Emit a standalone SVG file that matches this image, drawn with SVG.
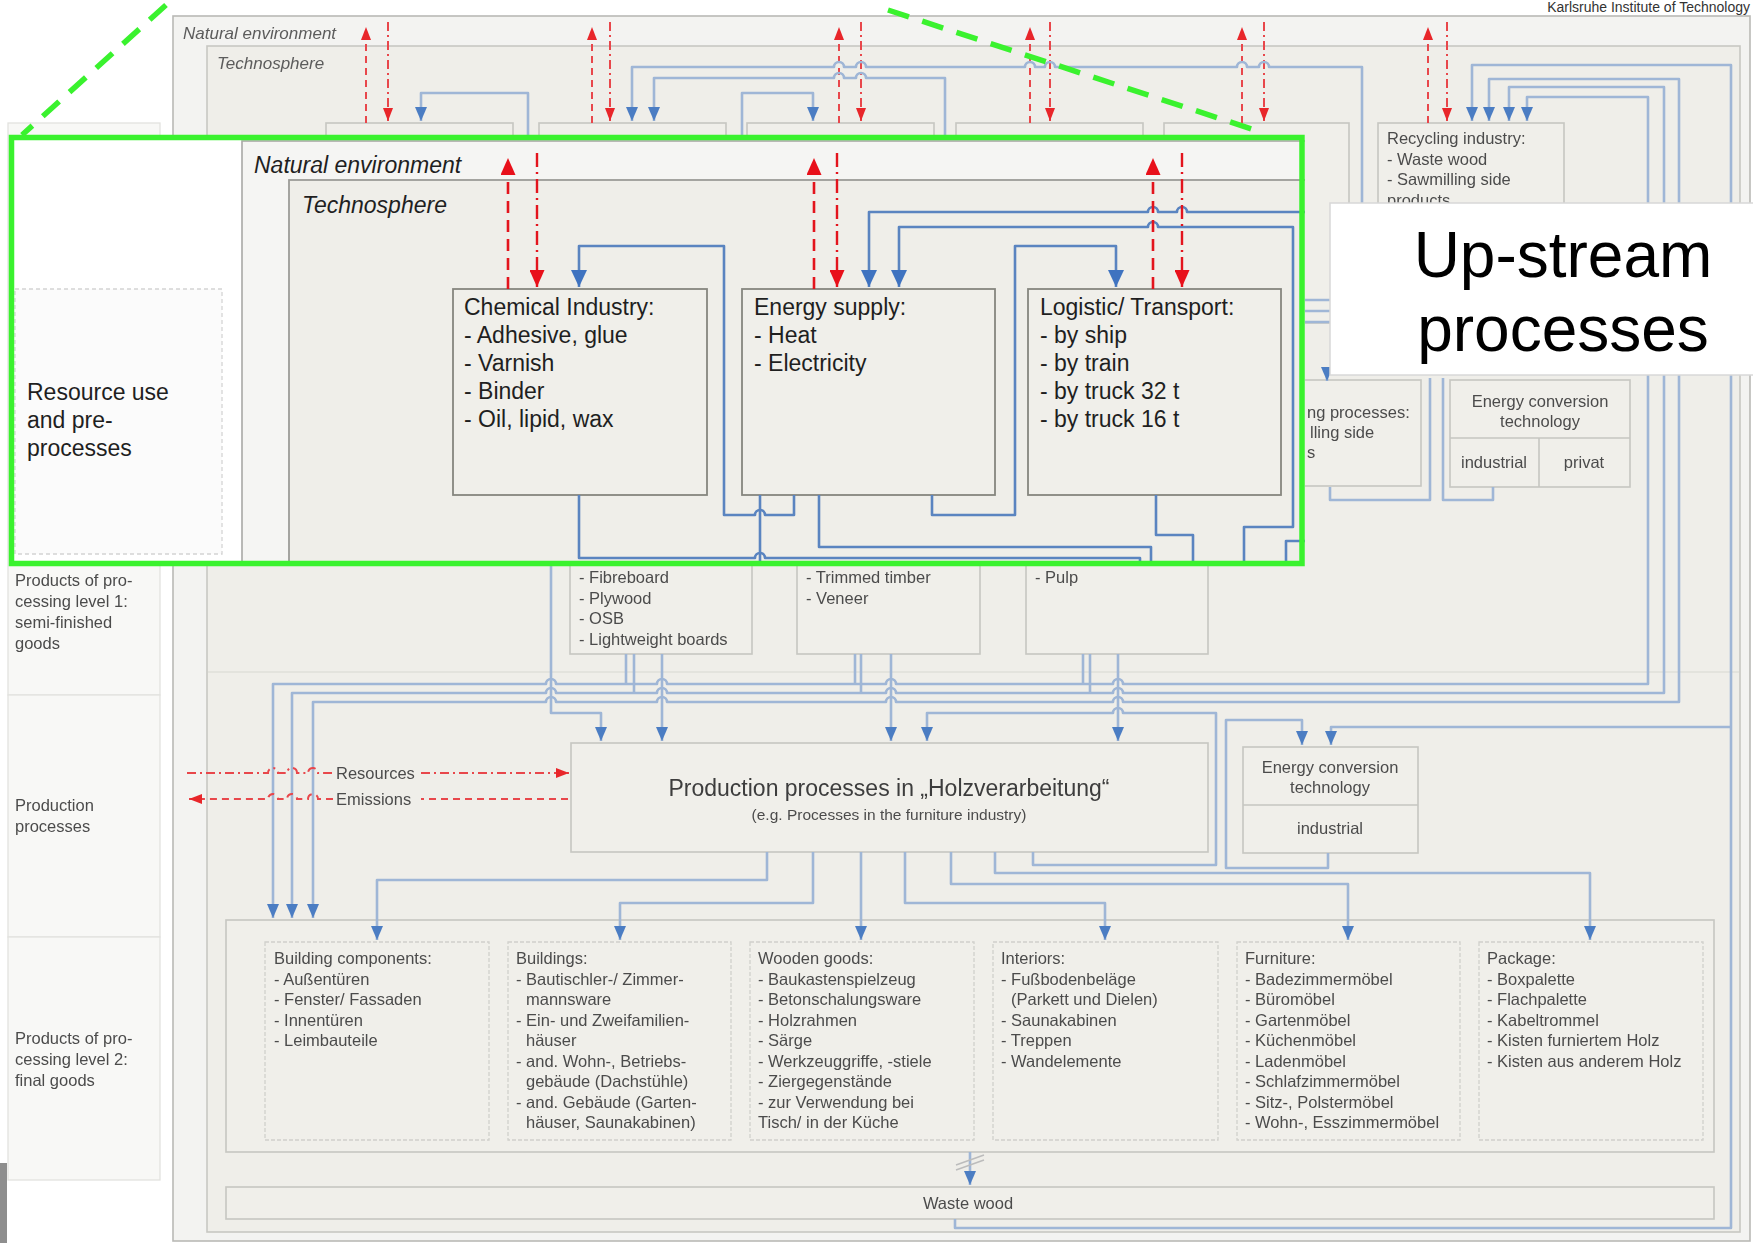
<svg xmlns="http://www.w3.org/2000/svg" width="1753" height="1243" viewBox="0 0 1753 1243">
<style>
.t{font-family:"Liberation Sans",Arial,sans-serif;fill:#4c4c4c;font-size:16.5px}
.tc{font-family:"Liberation Sans",Arial,sans-serif;fill:#4c4c4c;font-size:16.5px;text-anchor:middle}
.ti{font-family:"Liberation Sans",Arial,sans-serif;font-style:italic;fill:#5c5c5c;font-size:17px}
.bx{fill:#f0efea;stroke:#c6c6c1;stroke-width:1.6}
.bxd{fill:#f0efea;stroke:#d0d0cb;stroke-width:1.3;stroke-dasharray:4 2}
.lp{fill:#f8f8f6;stroke:#e2e2df;stroke-width:1.3}
.bl{fill:none;stroke:#9fb6d6;stroke-width:2.6;stroke-linejoin:round}
.ba{fill:none;stroke:#9fb6d6;stroke-width:2.6;stroke-linejoin:round;marker-end:url(#mb)}
.bb{fill:none;stroke:#9fb6d6;stroke-width:2.6;stroke-linejoin:round;marker-end:url(#mb);marker-start:url(#mb)}
.ru{fill:none;stroke:#e8464b;stroke-width:2;stroke-dasharray:7 5;marker-end:url(#mr)}
.rd{fill:none;stroke:#e8464b;stroke-width:2;stroke-dasharray:9 4 2 4;marker-end:url(#mr)}
.T{font-family:"Liberation Sans",Arial,sans-serif;fill:#1f1f1f;font-size:23px}
.TI{font-family:"Liberation Sans",Arial,sans-serif;font-style:italic;fill:#1f1f1f;font-size:23px}
.IB{fill:#f0efea;stroke:#86867f;stroke-width:1.8}
.il{fill:none;stroke:#5a84c0;stroke-width:2.6;stroke-linejoin:round}
.ia{fill:none;stroke:#5a84c0;stroke-width:2.6;stroke-linejoin:round;marker-end:url(#mB)}
.iu{fill:none;stroke:#e3141d;stroke-width:2.6;stroke-dasharray:12 7;marker-end:url(#mR)}
.id{fill:none;stroke:#e3141d;stroke-width:2.4;stroke-dasharray:14 5 2 5;marker-end:url(#mR)}
.g{fill:none;stroke:#3af22e;stroke-width:5.5}
</style>
<defs>
<marker id="mb" viewBox="0 0 14 12" refX="14" refY="6" markerWidth="14" markerHeight="12" markerUnits="userSpaceOnUse" orient="auto-start-reverse"><path d="M0,0 L14,6 L0,12 z" fill="#4c7dc3"/></marker>
<marker id="mr" viewBox="0 0 13 10" refX="13" refY="5" markerWidth="13" markerHeight="10" markerUnits="userSpaceOnUse" orient="auto"><path d="M0,0 L13,5 L0,10 z" fill="#e8262b"/></marker>
<marker id="mB" viewBox="0 0 17 16" refX="17" refY="8" markerWidth="17" markerHeight="16" markerUnits="userSpaceOnUse" orient="auto"><path d="M0,0 L17,8 L0,16 z" fill="#3f73c0"/></marker>
<marker id="mR" viewBox="0 0 17 15" refX="17" refY="7.5" markerWidth="17" markerHeight="15" markerUnits="userSpaceOnUse" orient="auto"><path d="M0,0 L17,7.5 L0,15 z" fill="#e8101a"/></marker>
<filter id="soft" x="-2%" y="-2%" width="104%" height="104%"><feGaussianBlur stdDeviation="0.5"/></filter>
<clipPath id="ic"><rect x="9" y="135" width="1296" height="431"/></clipPath>
</defs>
<rect width="1753" height="1243" fill="#ffffff"/>
<text x="1750" y="12" font-family="Liberation Sans, Arial, sans-serif" font-size="14" fill="#333" text-anchor="end">Karlsruhe Institute of Technology</text>

<g id="background" filter="url(#soft)">
<g id="natural-environment">
<rect x="173" y="16" width="1577" height="1225" fill="#f3f3f1" stroke="#b9b9b6" stroke-width="1.6"/>
<text class="ti" x="183" y="39">Natural environment</text>
</g>
<g id="technosphere">
<rect x="207" y="46" width="1533" height="1186" fill="#efeee9" stroke="#c7c7c2" stroke-width="1.6"/>
<text class="ti" x="217" y="69">Technosphere</text>
<line x1="208" y1="672" x2="1739" y2="672" stroke="#e3e3dd" stroke-width="2"/>
</g>
<g id="lanes">
<rect class="lp" x="8" y="123" width="152" height="572"/>
<rect class="lp" x="8" y="695" width="152" height="242"/>
<rect class="lp" x="8" y="937" width="152" height="243"/>
<text class="t" x="15" y="586">Products of pro-<tspan x="15" dy="21">cessing level 1:</tspan><tspan x="15" dy="21">semi-finished</tspan><tspan x="15" dy="21">goods</tspan></text>
<text class="t" x="15" y="811">Production<tspan x="15" dy="21">processes</tspan></text>
<text class="t" x="15" y="1044">Products of pro-<tspan x="15" dy="21">cessing level 2:</tspan><tspan x="15" dy="21">final goods</tspan></text>
</g>
<g id="bg-chemical"><rect class="bx" x="326" y="123" width="187" height="200"/></g>
<g id="bg-energy"><rect class="bx" x="539" y="123" width="187" height="200"/></g>
<g id="bg-logistic"><rect class="bx" x="747" y="123" width="187" height="200"/></g>
<g id="bg-forest"><rect class="bx" x="956" y="123" width="187" height="200"/></g>
<g id="bg-other"><rect class="bx" x="1164" y="123" width="185" height="200"/></g>
<g id="bg-recycling"><rect class="bx" x="1378" y="123" width="186" height="180"/>
<text class="t" x="1387" y="144">Recycling industry:<tspan x="1387" dy="20.5">- Waste wood</tspan><tspan x="1387" dy="20.5">- Sawmilling side</tspan><tspan x="1387" dy="21">products</tspan></text></g>
<g id="bg-sawmilling"><rect class="bx" x="1180" y="380" width="241" height="106"/>
<text class="t" x="1307" y="418">ng processes:</text><text class="t" x="1310" y="438">lling side</text><text class="t" x="1307" y="458">s</text></g>
<g id="bg-energy-conversion-top"><rect class="bx" x="1450" y="380" width="180" height="107"/>
<line x1="1450" y1="438" x2="1630" y2="438" stroke="#c6c6c1" stroke-width="1.6"/>
<line x1="1539" y1="438" x2="1539" y2="487" stroke="#c6c6c1" stroke-width="1.6"/>
<text class="tc" x="1540" y="407">Energy conversion</text><text class="tc" x="1540" y="427">technology</text>
<text class="tc" x="1494" y="468">industrial</text><text class="tc" x="1584" y="468">privat</text></g>
<g id="bg-panels"><rect class="bx" x="570" y="500" width="182" height="154"/>
<text class="t" x="579" y="583">- Fibreboard<tspan x="579" dy="20.5">- Plywood</tspan><tspan x="579" dy="20.5">- OSB</tspan><tspan x="579" dy="20.5">- Lightweight boards</tspan></text></g>
<g id="bg-timber"><rect class="bx" x="797" y="500" width="183" height="154"/>
<text class="t" x="806" y="583">- Trimmed timber<tspan x="806" dy="20.5">- Veneer</tspan></text></g>
<g id="bg-pulp"><rect class="bx" x="1026" y="500" width="182" height="154"/>
<text class="t" x="1035" y="583">- Pulp</text></g>
<g id="production">
<rect class="bx" x="571" y="743" width="637" height="109"/>
<text x="889" y="796" font-family="Liberation Sans, Arial, sans-serif" font-size="23" fill="#3c3c3c" text-anchor="middle">Production processes in „Holzverarbeitung“</text>
<text x="889" y="820" font-family="Liberation Sans, Arial, sans-serif" font-size="15.5" fill="#4c4c4c" text-anchor="middle">(e.g. Processes in the furniture industry)</text>
</g>
<g id="energy-conversion-mid">
<rect class="bx" x="1243" y="747" width="175" height="106"/>
<line x1="1243" y1="805" x2="1418" y2="805" stroke="#c6c6c1" stroke-width="1.6"/>
<text class="tc" x="1330" y="773">Energy conversion</text><text class="tc" x="1330" y="793">technology</text>
<text class="tc" x="1330" y="834">industrial</text>
</g>
<g id="final-goods">
<rect class="bx" x="226" y="920" width="1488" height="232"/>
<rect class="bxd" x="265" y="942" width="224" height="198"/>
<rect class="bxd" x="508" y="942" width="223" height="198"/>
<rect class="bxd" x="750" y="942" width="224" height="198"/>
<rect class="bxd" x="993" y="942" width="225" height="198"/>
<rect class="bxd" x="1237" y="942" width="223" height="198"/>
<rect class="bxd" x="1479" y="942" width="224" height="198"/>
<text class="t" x="274" y="964">Building components:<tspan x="274" dy="20.5">- Außentüren</tspan><tspan x="274" dy="20.5">- Fenster/ Fassaden</tspan><tspan x="274" dy="20.5">- Innentüren</tspan><tspan x="274" dy="20.5">- Leimbauteile</tspan></text>
<text class="t" x="516" y="964">Buildings:<tspan x="516" dy="20.5">- Bautischler-/ Zimmer-</tspan><tspan x="526" dy="20.5">mannsware</tspan><tspan x="516" dy="20.5">- Ein- und Zweifamilien-</tspan><tspan x="526" dy="20.5">häuser</tspan><tspan x="516" dy="20.5">- and. Wohn-, Betriebs-</tspan><tspan x="526" dy="20.5">gebäude (Dachstühle)</tspan><tspan x="516" dy="20.5">- and. Gebäude (Garten-</tspan><tspan x="526" dy="20.5">häuser, Saunakabinen)</tspan></text>
<text class="t" x="758" y="964">Wooden goods:<tspan x="758" dy="20.5">- Baukastenspielzeug</tspan><tspan x="758" dy="20.5">- Betonschalungsware</tspan><tspan x="758" dy="20.5">- Holzrahmen</tspan><tspan x="758" dy="20.5">- Särge</tspan><tspan x="758" dy="20.5">- Werkzeuggriffe, -stiele</tspan><tspan x="758" dy="20.5">- Ziergegenstände</tspan><tspan x="758" dy="20.5">- zur Verwendung bei</tspan><tspan x="758" dy="20.5">Tisch/ in der Küche</tspan></text>
<text class="t" x="1001" y="964">Interiors:<tspan x="1001" dy="20.5">- Fußbodenbeläge</tspan><tspan x="1011" dy="20.5">(Parkett und Dielen)</tspan><tspan x="1001" dy="20.5">- Saunakabinen</tspan><tspan x="1001" dy="20.5">- Treppen</tspan><tspan x="1001" dy="20.5">- Wandelemente</tspan></text>
<text class="t" x="1245" y="964">Furniture:<tspan x="1245" dy="20.5">- Badezimmermöbel</tspan><tspan x="1245" dy="20.5">- Büromöbel</tspan><tspan x="1245" dy="20.5">- Gartenmöbel</tspan><tspan x="1245" dy="20.5">- Küchenmöbel</tspan><tspan x="1245" dy="20.5">- Ladenmöbel</tspan><tspan x="1245" dy="20.5">- Schlafzimmermöbel</tspan><tspan x="1245" dy="20.5">- Sitz-, Polstermöbel</tspan><tspan x="1245" dy="20.5">- Wohn-, Esszimmermöbel</tspan></text>
<text class="t" x="1487" y="964">Package:<tspan x="1487" dy="20.5">- Boxpalette</tspan><tspan x="1487" dy="20.5">- Flachpalette</tspan><tspan x="1487" dy="20.5">- Kabeltrommel</tspan><tspan x="1487" dy="20.5">- Kisten furniertem Holz</tspan><tspan x="1487" dy="20.5">- Kisten aus anderem Holz</tspan></text>
</g>
<g id="waste-wood">
<rect class="bx" x="226" y="1187" width="1488" height="32"/>
<text class="tc" x="968" y="1209">Waste wood</text>
</g>

<g id="bg-connectors">
<path class="ru" d="M366,123 V27"/><path class="rd" d="M388,22 V121"/>
<path class="ru" d="M592,123 V27"/><path class="rd" d="M610,22 V121"/>
<path class="ru" d="M839,123 V27"/><path class="rd" d="M861,22 V121"/>
<path class="ru" d="M1030,123 V27"/><path class="rd" d="M1050,22 V121"/>
<path class="ru" d="M1242,123 V27"/><path class="rd" d="M1264,22 V121"/>
<path class="ru" d="M1428,123 V27"/><path class="rd" d="M1447,22 V121"/>
<path class="ba" d="M528,140 V93 H421 V121"/>
<path class="ba" d="M1362,240 V67 H1269 a5,5 0 0 0 -10,0 H1247 a5,5 0 0 0 -10,0 H1055 a5,5 0 0 0 -10,0 H1035 a5,5 0 0 0 -10,0 H866 a5,5 0 0 0 -10,0 H844 a5,5 0 0 0 -10,0 H632 V121"/>
<path class="ba" d="M945,140 V78 H866 a5,5 0 0 0 -10,0 H844 a5,5 0 0 0 -10,0 H654 V121"/>
<path class="ba" d="M742,140 V93 H813 V121"/>
<path class="ba" d="M955,1219 V1228 H1731 V65 H1472 V121"/>
<path class="bb" d="M273,918 V684 H546 a5,5 0 0 1 10,0 H657 a5,5 0 0 1 10,0 H886 a5,5 0 0 1 10,0 H1113 a5,5 0 0 1 10,0 H1648 V97 H1527 V121"/>
<path class="bb" d="M292,918 V693 H546 a5,5 0 0 1 10,0 H657 a5,5 0 0 1 10,0 H886 a5,5 0 0 1 10,0 H1113 a5,5 0 0 1 10,0 H1664 V87 H1509 V121"/>
<path class="bb" d="M313,918 V702 H546 a5,5 0 0 1 10,0 H657 a5,5 0 0 1 10,0 H886 a5,5 0 0 1 10,0 H1113 a5,5 0 0 1 10,0 H1679 V79 H1489 V121"/>
<path class="bl" d="M626,654 V684 M634,654 V693 M855,654 V684 M861,654 V693 M1083,654 V684 M1090,654 V693"/>
<path class="bl" d="M1330,487 V500 H1430 V378 M1443,378 V500 H1493 V487 M1305,300 H1330 M1305,311 H1330 M1305,322 H1330"/>
<path class="ba" d="M1327,368 V381"/>
<path class="ba" d="M551,566 V713 H601 V741"/>
<path class="ba" d="M662,654 V741"/>
<path class="ba" d="M891,654 V741"/>
<path class="ba" d="M1118,654 V741"/>
<path class="ba" d="M1033,852 V865 H1216 V713 H1123 a5,5 0 0 0 -10,0 H927 V741"/>
<path class="ba" d="M1328,853 V868 H1226 V720 H1302 V745"/>
<path class="ba" d="M1731,727 H1331 V745"/>
<path class="ba" d="M767,852 V880 H377 V940"/>
<path class="ba" d="M813,852 V903 H620 V940"/>
<path class="ba" d="M861,852 V940"/>
<path class="ba" d="M905,852 V903 H1105 V940"/>
<path class="ba" d="M951,852 V884 H1348 V940"/>
<path class="ba" d="M995,852 V873 H1590 V940"/>
<path class="ba" d="M970,1152 V1185"/>
<path d="M956,1170 L984,1160 M956,1165 L984,1155" stroke="#bcbcbc" stroke-width="1.5" fill="none"/>
<path class="rd" d="M187,773 H268 a5,5 0 0 1 10,0 H287 a5,5 0 0 1 10,0 H308 a5,5 0 0 1 10,0 H332 M421,773 H569"/>
<path class="ru" d="M568,799 H421 M333,799 H318 a5,5 0 0 0 -10,0 H297 a5,5 0 0 0 -10,0 H278 a5,5 0 0 0 -10,0 H189"/>
<text class="t" x="336" y="779">Resources</text>
<text class="t" x="336" y="805">Emissions</text>
</g>
</g>

<rect x="0" y="1163" width="7" height="80" fill="#8e8e8e"/>

<g id="inset" clip-path="url(#ic)">
<rect x="9" y="135" width="1296" height="431" fill="#ffffff"/>
<g id="resource-use">
<rect x="15" y="289" width="207" height="265" fill="#fbfbfb" stroke="#d4d4d4" stroke-width="1.3" stroke-dasharray="4 3"/>
<text class="T" x="27" y="400">Resource use<tspan x="27" dy="28">and pre-</tspan><tspan x="27" dy="28">processes</tspan></text>
</g>
<g id="inset-natural-environment">
<rect x="242" y="141" width="1080" height="440" fill="#f5f5f3" stroke="#a9a9a6" stroke-width="1.6"/>
<text class="TI" x="254" y="173">Natural environment</text>
</g>
<g id="inset-technosphere">
<rect x="289" y="180" width="1030" height="400" fill="#efeee9" stroke="#9c9c98" stroke-width="1.8"/>
<text class="TI" x="302" y="213">Technosphere</text>
</g>
<g id="chemical-industry">
<rect class="IB" x="453" y="289" width="254" height="206"/>
<text class="T" x="464" y="315">Chemical Industry:<tspan x="464" dy="28">- Adhesive, glue</tspan><tspan x="464" dy="28">- Varnish</tspan><tspan x="464" dy="28">- Binder</tspan><tspan x="464" dy="28">- Oil, lipid, wax</tspan></text>
</g>
<g id="energy-supply">
<rect class="IB" x="742" y="289" width="253" height="206"/>
<text class="T" x="754" y="315">Energy supply:<tspan x="754" dy="28">- Heat</tspan><tspan x="754" dy="28">- Electricity</tspan></text>
</g>
<g id="logistic-transport">
<rect class="IB" x="1028" y="289" width="253" height="206"/>
<text class="T" x="1040" y="315">Logistic/ Transport:<tspan x="1040" dy="28">- by ship</tspan><tspan x="1040" dy="28">- by train</tspan><tspan x="1040" dy="28">- by truck 32 t</tspan><tspan x="1040" dy="28">- by truck 16 t</tspan></text>
</g>
<g id="inset-connectors">
<path class="ia" d="M794,495 V515 H765 a5,5 0 0 0 -10,0 H724 V246 H579 V287"/>
<path class="il" d="M760,495 V566"/>
<path class="il" d="M579,495 V558 H755 a5,5 0 0 1 10,0 H1140 V566"/>
<path class="il" d="M819,495 V547 H1151 V566"/>
<path class="ia" d="M932,495 V515 H1015 V246 H1116 V287"/>
<path class="ia" d="M1306,212 H1187 a5,5 0 0 0 -10,0 H1158 a5,5 0 0 0 -10,0 H869 V287"/>
<path class="ia" d="M1244,566 V527 H1293 V227 H1158 a5,5 0 0 0 -10,0 H899 V287"/>
<path class="il" d="M1156,495 V535 H1193 V566"/>
<path class="il" d="M1286,566 V541 H1306"/>
<path class="iu" d="M508,289 V158"/><path class="id" d="M537,153 V287"/>
<path class="iu" d="M814,289 V158"/><path class="id" d="M837,153 V287"/>
<path class="iu" d="M1153,289 V158"/><path class="id" d="M1182,153 V287"/>
</g>
</g>

<g id="upstream-label">
<rect x="1330" y="203" width="430" height="172" fill="#ffffff" stroke="#d8d8d8" stroke-width="1.5"/>
<text x="1563" y="277" font-family="Liberation Sans, Arial, sans-serif" font-size="64" fill="#000" text-anchor="middle">Up-stream</text>
<text x="1563" y="351" font-family="Liberation Sans, Arial, sans-serif" font-size="64" fill="#000" text-anchor="middle">processes</text>
</g>

<g id="zoom-indicator">
<path d="M166,5 L22,135" stroke="#3af22e" stroke-width="5.5" stroke-dasharray="22 14" fill="none"/>
<path d="M888,10 L1264,133" stroke="#3af22e" stroke-width="5.5" stroke-dasharray="22 14" fill="none"/>
<rect class="g" x="11.5" y="137.5" width="1290.5" height="426"/>
</g>
</svg>
